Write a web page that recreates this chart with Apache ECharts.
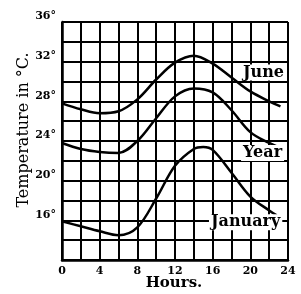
<!DOCTYPE html>
<html lang="en">
<head>
<meta charset="utf-8">
<title>Temperature by hour</title>
<style>
html, body { margin: 0; background: #fff; }
#chart { width: 301px; height: 294px; }
</style>
</head>
<body>
<div id="chart"></div>
<script src="https://cdn.jsdelivr.net/npm/echarts@6/dist/echarts.min.js"></script>
<script>
// readings: [hour, temperature °C]
var june = [[0, 27.8], [2, 27.2], [4, 26.8], [6, 27.0], [8, 28.2], [10, 30.2], [12, 31.9],
  [14, 32.6], [16, 31.8], [18, 30.4], [20, 29.0], [22, 28.0], [23.2, 27.5]];
var year = [[0, 23.8], [2, 23.2], [4, 22.9], [6, 22.8], [8, 24.0], [10, 26.3], [12, 28.5],
  [14, 29.3], [16, 28.9], [18, 27.1], [20, 24.9], [22, 23.8], [23.5, 23.2]];
var january = [[0, 15.9], [2, 15.4], [4, 14.9], [6, 14.5], [8, 15.3], [10, 18.2], [12, 21.5],
  [14, 23.2], [15, 23.4], [16, 23.1], [18, 20.8], [20, 18.4], [22, 17.0], [22.8, 16.5]];
var seriesNames = ['June', 'Year', 'January'];
var hourTicks = [0, 4, 8, 12, 16, 20, 24];
var tempTicks = [16, 20, 24, 28, 32, 36];

var serif = 'DejaVu Serif';
function curve(name, data, labelAt) {
  return {
    name: name,
    type: 'line',
    smooth: 0.35,
    showSymbol: false,
    silent: true,
    data: data,
    lineStyle: { color: '#000', width: 2.5 },
    markPoint: {
      symbol: 'rect',
      symbolSize: 0,
      data: [{ coord: labelAt }],
      label: {
        show: true,
        position: 'inside',
        formatter: name,
        color: '#000',
        fontFamily: serif,
        fontWeight: 'bold',
        fontSize: 16,
        backgroundColor: '#fff',
        padding: [0, 2]
      }
    }
  };
}

var chart = echarts.init(document.getElementById('chart'));
chart.setOption({
  animation: false,
  grid: { left: 62, right: 13, top: 22, bottom: 34 },
  xAxis: {
    type: 'value',
    min: 0,
    max: 24,
    interval: 2,
    axisLine: { show: true, lineStyle: { color: '#000', width: 2.5 } },
    axisTick: { show: false },
    splitLine: { show: true, lineStyle: { color: '#000', width: 2 } },
    axisLabel: {
      margin: 6,
      color: '#000',
      fontFamily: serif,
      fontWeight: 'bold',
      fontSize: 11,
      formatter: function (v) { return hourTicks.indexOf(v) >= 0 ? String(v) : ''; }
    }
  },
  yAxis: {
    type: 'value',
    min: 12,
    max: 36,
    interval: 2,
    axisLine: { show: true, lineStyle: { color: '#000', width: 2.5 } },
    axisTick: { show: false },
    splitLine: { show: true, lineStyle: { color: '#000', width: 2 } },
    axisLabel: {
      margin: 6,
      verticalAlign: 'bottom',
      color: '#000',
      fontFamily: serif,
      fontWeight: 'bold',
      fontSize: 11,
      formatter: function (v) { return tempTicks.indexOf(v) >= 0 ? v + '°' : ''; }
    }
  },
  graphic: [
    {
      type: 'text',
      x: 24,
      y: 130,
      rotation: Math.PI / 2,
      style: {
        text: 'Temperature in °C.',
        fontFamily: serif,
        fontSize: 16,
        fill: '#000',
        align: 'center',
        verticalAlign: 'middle'
      }
    },
    {
      type: 'text',
      x: 174,
      y: 283,
      style: {
        text: 'Hours.',
        fontFamily: serif,
        fontWeight: 'bold',
        fontSize: 15,
        fill: '#000',
        align: 'center',
        verticalAlign: 'middle'
      }
    }
  ],
  series: [
    curve(seriesNames[0], june, [21.4, 30.9]),
    curve(seriesNames[1], year, [21.3, 22.8]),
    curve(seriesNames[2], january, [19.5, 15.8])
  ]
});
</script>
</body>
</html>
